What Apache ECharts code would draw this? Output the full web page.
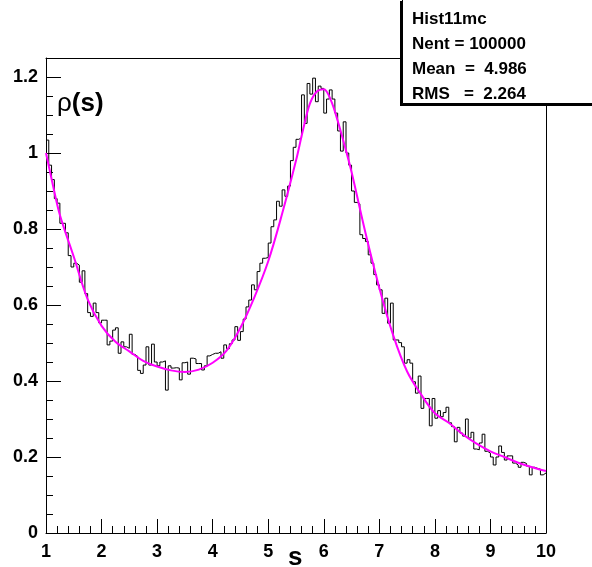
<!DOCTYPE html>
<html>
<head>
<meta charset="utf-8">
<script src="https://cdn.jsdelivr.net/npm/echarts@6/dist/echarts.min.js"></script>
<style>
  html, body { margin: 0; padding: 0; background: #fff; }
  #chart { width: 592px; height: 567px; }
</style>
</head>
<body>
<div id="chart"></div>
<script>
// histogram: 180 bins from 1 to 10
var binLow = 1
var binWidth = 0.05
var histValues = [
  1.034, 0.968, 0.93, 0.88, 0.868, 0.815, 0.815, 0.79, 0.73, 0.70,
  0.71, 0.705, 0.66, 0.69, 0.63, 0.58, 0.57, 0.605, 0.58, 0.553,
  0.56, 0.56, 0.495, 0.505, 0.534, 0.54, 0.473, 0.503, 0.49, 0.486,
  0.523, 0.47, 0.465, 0.428, 0.42, 0.442, 0.49, 0.442, 0.497, 0.45,
  0.44, 0.45, 0.453, 0.376, 0.44, 0.434, 0.435, 0.434, 0.403, 0.448,
  0.45, 0.418, 0.46, 0.458, 0.446, 0.446, 0.429, 0.44, 0.466, 0.47,
  0.473, 0.473, 0.477, 0.46, 0.495, 0.485, 0.498, 0.508, 0.543, 0.507,
  0.53, 0.563, 0.595, 0.613, 0.653, 0.64, 0.688, 0.71, 0.723, 0.725,
  0.763, 0.806, 0.824, 0.873, 0.86, 0.903, 0.886, 0.913, 0.98, 1.015,
  1.036, 1.04, 1.153, 1.078, 1.183, 1.155, 1.197, 1.135, 1.176, 1.17,
  1.105, 1.142, 1.166, 1.142, 1.105, 1.058, 1.005, 1.082, 1.0, 0.968,
  0.90, 0.87, 0.866, 0.785, 0.775, 0.767, 0.732, 0.71, 0.68, 0.653,
  0.64, 0.578, 0.618, 0.552, 0.605, 0.508, 0.508, 0.501, 0.49, 0.447,
  0.456, 0.447, 0.398, 0.368, 0.413, 0.328, 0.354, 0.354, 0.282, 0.354,
  0.302, 0.322, 0.306, 0.317, 0.331, 0.29, 0.28, 0.24, 0.278, 0.263,
  0.255, 0.30, 0.25, 0.265, 0.221, 0.219, 0.237, 0.26, 0.215, 0.21,
  0.2, 0.179, 0.2, 0.229, 0.212, 0.192, 0.203, 0.203, 0.184, 0.179,
  0.173, 0.186, 0.183, 0.176, 0.153, 0.173, 0.17, 0.168, 0.153, 0.158
]

// fit curve
var fitS = [1, 1.125, 1.25, 1.5, 1.75, 2, 2.25, 2.5, 2.75, 3, 3.25, 3.5, 3.75, 4, 4.25, 4.5, 4.75, 5, 5.25, 5.5,
  5.625, 5.75, 5.875, 6, 6.125, 6.25, 6.375, 6.5, 6.75, 7, 7.25, 7.5, 7.75, 8, 8.25, 8.5, 8.75, 9, 9.25, 9.5, 9.75, 10]
var fitValues = [1.0, 0.915, 0.837, 0.727, 0.615, 0.545, 0.503, 0.478, 0.453, 0.438, 0.428, 0.424, 0.43, 0.448, 0.48, 0.54, 0.62, 0.715, 0.84, 0.98,
  1.06, 1.13, 1.162, 1.168, 1.14, 1.085, 1.02, 0.95, 0.79, 0.645, 0.52, 0.425, 0.365, 0.315, 0.29, 0.26, 0.235, 0.215, 0.2, 0.185, 0.173, 0.163]

var statsLines = ['Hist11mc', 'Nent = 100000', 'Mean  =  4.986', 'RMS   =  2.264']
var xTitle = 's'

var fontFamily = "'Liberation Sans', Arial, sans-serif"

var histData = []
for (var i = 0; i < histValues.length; i++) {
  histData.push([binLow + i * binWidth, histValues[i]])
}
histData.push([binLow + histValues.length * binWidth, histValues[histValues.length - 1]])

var fitData = fitS.map(function (s, i) { return [s, fitValues[i]] })

var labelStyle = {
  color: '#000',
  fontFamily: fontFamily,
  fontWeight: 'bold',
  fontSize: 18
}

var statsGraphics = [
  { type: 'rect', shape: { x: 400, y: 1, width: 194, height: 105 }, style: { fill: '#000' }, z: 10 },
  { type: 'rect', shape: { x: 402.5, y: -1, width: 192, height: 104.5 }, style: { fill: '#fff', stroke: '#000', lineWidth: 1 }, z: 11 }
]
statsLines.forEach(function (t, i) {
  statsGraphics.push({
    type: 'text',
    left: 412,
    top: 11 + i * 24.8,
    z: 12,
    style: { text: t, fill: '#000', font: 'bold 17px ' + fontFamily }
  })
})

var chart = echarts.init(document.getElementById('chart'), null, { renderer: 'canvas' })

var option = {
  animation: false,
  backgroundColor: '#fff',
  grid: { left: 46, right: 46, top: 58, bottom: 34, containLabel: false, outerBoundsMode: 'none' },
  xAxis: [
    {
      type: 'value',
      min: 1,
      max: 10,
      interval: 1,
      position: 'bottom',
      axisLine: { onZero: false, lineStyle: { color: '#000', width: 1 } },
      axisTick: { show: true, inside: true, length: 14, lineStyle: { color: '#000' } },
      minorTick: { show: true, splitNumber: 5, length: 7, lineStyle: { color: '#000' } },
      axisLabel: Object.assign({ margin: 10 }, labelStyle),
      splitLine: { show: false }
    },
    {
      type: 'value',
      min: 1,
      max: 10,
      position: 'top',
      axisLine: { show: true, onZero: false, lineStyle: { color: '#000', width: 1 } },
      axisTick: { show: false },
      axisLabel: { show: false },
      splitLine: { show: false }
    }
  ],
  yAxis: [
    {
      type: 'value',
      min: 0,
      max: 1.25,
      interval: 0.05,
      position: 'left',
      axisLine: { show: true, onZero: false, lineStyle: { color: '#000', width: 1 } },
      axisTick: { show: true, inside: true, length: 7, lineStyle: { color: '#000' } },
      axisLabel: Object.assign({
        margin: 8,
        formatter: function (v) {
          var k = v / 0.2
          if (Math.abs(k - Math.round(k)) > 1e-6) return ''
          return String(parseFloat(v.toFixed(2)))
        }
      }, labelStyle),
      splitLine: { show: false }
    },
    {
      type: 'value',
      min: 0,
      max: 1.25,
      interval: 0.2,
      position: 'left',
      axisLine: { show: false },
      axisTick: { show: true, inside: true, length: 15, lineStyle: { color: '#000' } },
      axisLabel: { show: false },
      splitLine: { show: false }
    },
    {
      type: 'value',
      min: 0,
      max: 1.25,
      position: 'right',
      axisLine: { show: true, onZero: false, lineStyle: { color: '#000', width: 1 } },
      axisTick: { show: false },
      axisLabel: { show: false },
      splitLine: { show: false }
    }
  ],
  graphic: [
    {
      type: 'text',
      left: 57,
      top: 91,
      z: 10,
      style: {
        text: '{a|ρ}{b|(s)}',
        rich: {
          a: { fontFamily: fontFamily, fontSize: 26, fontWeight: 'normal', fill: '#000' },
          b: { fontFamily: fontFamily, fontSize: 26, fontWeight: 'bold', fill: '#000' }
        }
      }
    },
    {
      type: 'text',
      left: 288,
      top: 545,
      z: 10,
      style: { text: xTitle, fill: '#000', font: 'bold 26px ' + fontFamily }
    }
  ].concat(statsGraphics),
  series: [
    {
      name: 'Hist11mc',
      type: 'line',
      step: 'end',
      xAxisIndex: 0,
      yAxisIndex: 0,
      symbol: 'none',
      data: histData,
      lineStyle: { color: '#000', width: 1 },
      z: 2
    },
    {
      name: 'fit',
      type: 'line',
      smooth: 0.35,
      xAxisIndex: 0,
      yAxisIndex: 0,
      symbol: 'none',
      data: fitData,
      lineStyle: { color: '#ff00ff', width: 2 },
      z: 3
    }
  ]
}

chart.setOption(option)
</script>
</body>
</html>
